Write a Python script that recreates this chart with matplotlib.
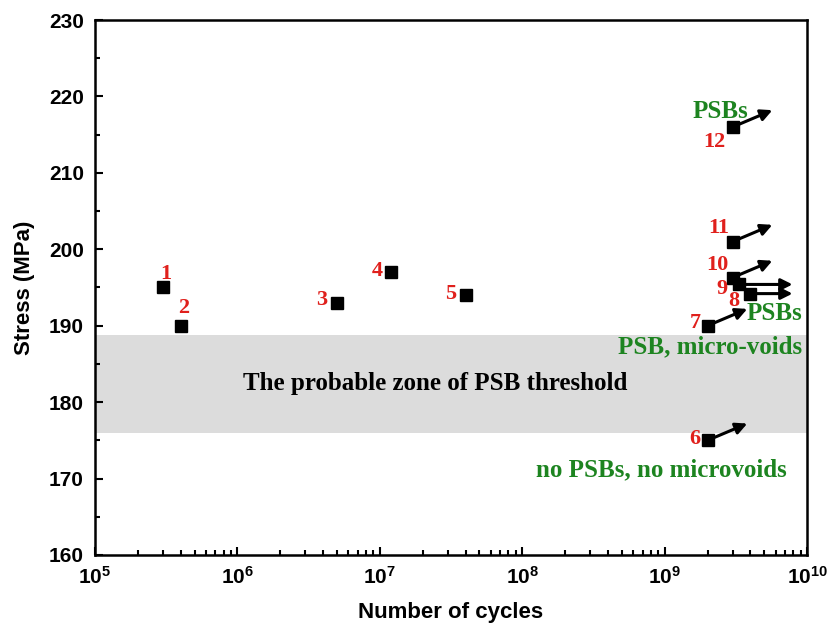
import math
import matplotlib
matplotlib.use('Agg')
import matplotlib.pyplot as plt
from matplotlib.ticker import FuncFormatter, MultipleLocator, LogLocator

# datos
ciclos = [3e5, 4e5, 5e6, 1.2e7, 4e7, 2e9, 2e9, 4e9, 3.3e9, 3e9, 3e9, 3e9]
tension = [195, 190, 193, 197, 194, 175, 190, 194.2, 195.4, 196.3, 201, 216]
etiquetas = ['1', '2', '3', '4', '5', '6', '7', '8', '9', '10', '11', '12']
# desplazamiento de cada numero (puntos)
desp = [(2, 10), (2, 13), (-11, 2), (-10, 1), (-11, 1), (-9, 1), (-9, 2),
        (-12, -5), (-12, -3), (-11, 9), (-10, 10), (-13, -11)]
# ensayos sin rotura (runout): indice y tipo de flecha
runout_diag = [5, 6, 9, 10, 11]
runout_horiz = [7, 8]

zona_psb = (176, 188.8)

rojo = '#e0201c'
verde = '#1d8420'
serif = 'Liberation Serif'

plt.rcParams['font.family'] = 'Liberation Sans'
plt.rcParams['mathtext.fontset'] = 'custom'
plt.rcParams['mathtext.rm'] = 'Liberation Sans'
plt.rcParams['mathtext.bf'] = 'Liberation Sans:bold'

fig = plt.figure(figsize=(8.29, 6.35), dpi=100)
ax = fig.add_axes([0.1146, 0.126, 0.859, 0.8425])

ax.axhspan(zona_psb[0], zona_psb[1], color='#dcdcdc', lw=0, zorder=0)
ax.text(2.45e7, (zona_psb[0] + zona_psb[1]) / 2, 'The probable zone of PSB threshold',
        ha='center', va='center', fontsize=18, fontweight='bold', family=serif)

ax.plot(ciclos, tension, 's', color='k', markersize=8, zorder=3)

for x, y, t, d in zip(ciclos, tension, etiquetas, desp):
    ax.annotate(t, (x, y), xytext=d, textcoords='offset points', ha='center', va='center',
                color=rojo, fontsize=16, fontweight='bold', family=serif)

flecha = dict(arrowstyle='-|>', lw=2.2, color='k', mutation_scale=17, shrinkA=0, shrinkB=0)
for i in runout_diag:
    ax.annotate('', xy=(ciclos[i] * 1.9, tension[i] + 2.2), xytext=(ciclos[i], tension[i]),
                arrowprops=flecha, zorder=2)
for i in runout_horiz:
    ax.annotate('', xy=(7.9e9, tension[i]), xytext=(ciclos[i], tension[i]),
                arrowprops=flecha, zorder=2)

# textos verdes
estilo_verde = dict(textcoords='offset points', va='center', color=verde,
                    fontsize=18, fontweight='bold', family=serif)
ax.annotate('PSBs', (ciclos[11], tension[11]), xytext=(-9, 11), ha='center', **estilo_verde)
ax.annotate('PSBs', (ciclos[7], tension[7]), xytext=(17, -14), ha='center', **estilo_verde)
ax.annotate('PSB, micro-voids', (ciclos[6], tension[6]), xytext=(68, -15), ha='right', **estilo_verde)
ax.annotate('no PSBs, no microvoids', (ciclos[5], tension[5]), xytext=(57, -21), ha='right', **estilo_verde)

ax.set_xscale('log')
ax.set_xlim(1e5, 1e10)
ax.set_ylim(160, 230)
ax.yaxis.set_major_locator(MultipleLocator(10))
ax.yaxis.set_minor_locator(MultipleLocator(5))
ax.xaxis.set_major_locator(LogLocator(base=10, numticks=10))
ax.xaxis.set_minor_locator(LogLocator(base=10, subs=range(2, 10), numticks=20))
ax.xaxis.set_major_formatter(FuncFormatter(lambda v, p: r'$\mathbf{10^{%d}}$' % round(math.log10(v))))

ax.tick_params(which='both', direction='in', top=False, right=False, width=1.5)
ax.tick_params(which='major', length=6, labelsize=15, pad=8)
ax.tick_params(which='minor', length=3.5)
for lbl in ax.get_yticklabels():
    lbl.set_fontweight('bold')
for s in ax.spines.values():
    s.set_linewidth(1.8)

ax.set_xlabel('Number of cycles', fontsize=16, fontweight='bold', labelpad=10)
ax.set_ylabel('Stress (MPa)', fontsize=16, fontweight='bold', labelpad=10)

fig.savefig('out.png', dpi=100)
